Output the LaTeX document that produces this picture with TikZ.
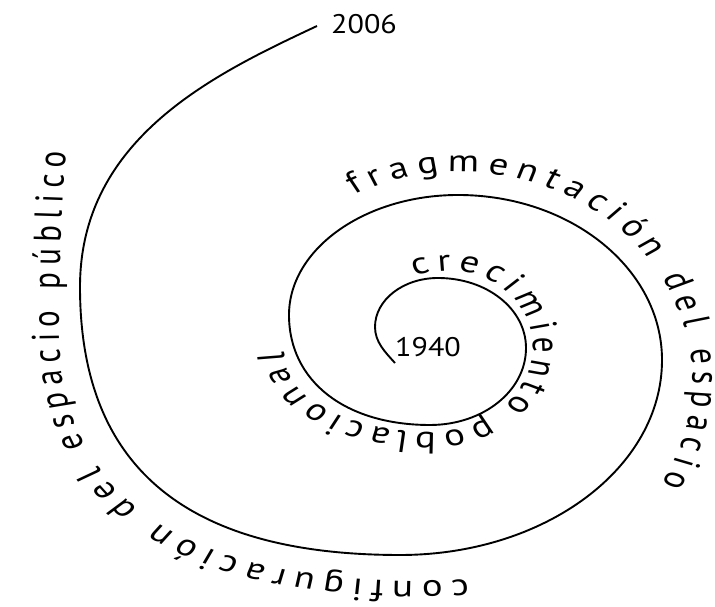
\documentclass[tikz,border=0pt]{standalone}
\usepackage{fontspec}
\setmainfont{PT Sans}
\usetikzlibrary{decorations.text}
\tikzset{
  spiral/.style={line width=1.9bp, black},
  pathtext/.style={decorate, decoration={text along path, text align=fit to path,
      text={|\fontsize{31}{34}\selectfont|#1}}},
  widetext/.style={transform canvas={xscale=1.25}, x=0.8bp},
  year/.style={font=\fontsize{27}{30}\selectfont, inner sep=0pt},
}
\begin{document}
\begin{tikzpicture}[x=1bp,y=1bp]
\useasboundingbox (0,0) rectangle (715,607);
\coordinate (s) at (395,244);
\coordinate (e) at (317,581);
\draw[spiral] (s) .. controls (385,255) and (375,265) .. (375,280)
 .. controls (375,307) and (403,329) .. (438,329)
 .. controls (487,329) and (526,298) .. (526,259)
 .. controls (526,216) and (483,182) .. (430,182)
 .. controls (345,182) and (289,226) .. (289,292)
 .. controls (289,358) and (365,412) .. (458,412)
 .. controls (571,412) and (662,338) .. (662,247)
 .. controls (662,139) and (545,52) .. (400,52)
 .. controls (186,52) and (80,140) .. (80,320)
 .. controls (80,470) and (217,534) .. (e);
\node[year, anchor=west] (y1940) at (395,260) {\scalebox{1.12}[1]{1940}};
\node[year, anchor=west] (y2006) at (331,583) {\scalebox{1.12}[1]{2006}};
\begin{scope}[widetext]
\path[pathtext={crecimiento poblacional}] (415,331) .. controls (427,334) and (438,336) .. (450,336)
 .. controls (496,336) and (533,302) .. (533,259)
 .. controls (533,213) and (487,175) .. (430,175)
 .. controls (350,175) and (286,207) .. (284,255);
\path[pathtext={fragmentación del espacio}] ([shift={(460,227)}]117:186bp and 208bp)
 arc[start angle=117, end angle=-30, x radius=186bp, y radius=208bp];
\path[pathtext={configuración del espacio público}] (468,28) .. controls (452,27) and (436,26) .. (420,26)
 .. controls (185,26) and (59,108) .. (59,277)
 .. controls (59,347) and (62,412) .. (66,455);
\end{scope}
\end{tikzpicture}
\end{document}
